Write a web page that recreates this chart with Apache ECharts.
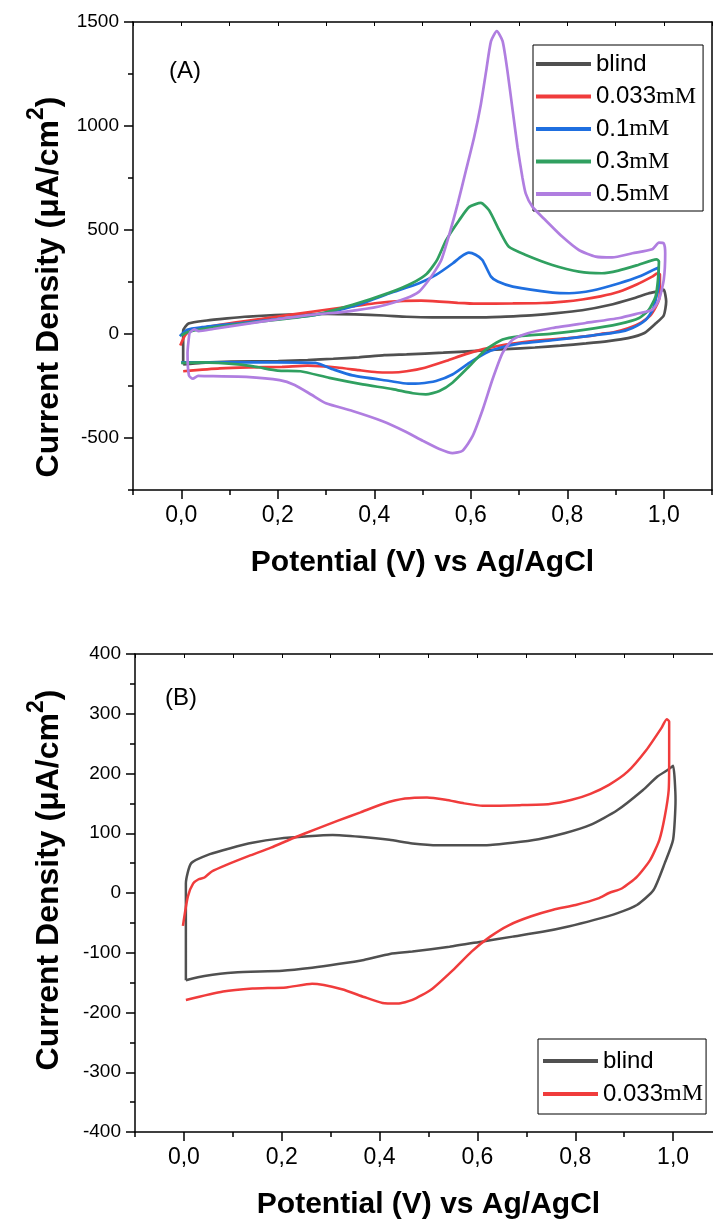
<!DOCTYPE html>
<html><head><meta charset="utf-8">
<script src="https://cdn.jsdelivr.net/npm/echarts@6/dist/echarts.min.js"></script>
<style>html,body{margin:0;padding:0;background:#fff}#c{width:713px;height:1223px}</style>
</head><body><div id="c"></div>
<script>
// ---------- data (Potential V, Current density uA/cm2) ----------
const seriesNames = ['blind', '0.033mM', '0.1mM', '0.3mM', '0.5mM'];
const seriesColors = ['#505050', '#f03c3c', '#1f6fe0', '#30a060', '#b07ee0'];

const blind = [[0.004,-146],[0.004,-60],[0.004,16],[0.015,50],[0.053,65],[0.095,75],[0.14,84],[0.194,91],[0.254,95],[0.304,97],[0.36,94],[0.42,89],[0.467,83],[0.52,80],[0.619,80],[0.672,84],[0.725,90],[0.778,100],[0.831,114],[0.885,138],[0.938,172],[0.968,195],[0.991,207],[1.0,213],[1.005,156],[1.0,89],[0.983,50],[0.96,5],[0.926,-20],[0.885,-34],[0.839,-45],[0.786,-56],[0.733,-65],[0.672,-73],[0.611,-81],[0.543,-90],[0.467,-98],[0.421,-102],[0.368,-112],[0.315,-119],[0.262,-125],[0.201,-130],[0.103,-133],[0.042,-139],[0.004,-146]];

const c033 = [[-0.002,-55],[0.008,-6],[0.019,16],[0.03,23],[0.042,26],[0.057,36],[0.087,47],[0.133,62],[0.178,76],[0.224,92],[0.27,107],[0.315,121],[0.361,135],[0.406,149],[0.452,158],[0.497,160],[0.535,156],[0.573,150],[0.611,146],[0.687,147],[0.748,149],[0.793,156],[0.831,166],[0.869,181],[0.907,203],[0.945,239],[0.976,276],[0.987,291],[0.992,287],[0.992,223],[0.991,172],[0.983,128],[0.972,89],[0.953,55],[0.926,27],[0.896,8],[0.869,0],[0.847,-9],[0.801,-20],[0.755,-28],[0.71,-39],[0.664,-54],[0.626,-73],[0.588,-98],[0.55,-129],[0.505,-162],[0.467,-179],[0.437,-185],[0.406,-184],[0.368,-174],[0.323,-161],[0.262,-152],[0.209,-158],[0.14,-160],[0.08,-165],[0.004,-179]];

const c01 = [[-0.003,-10],[0.0125,21],[0.043,33],[0.124,53],[0.2,72],[0.278,92],[0.355,132],[0.432,196],[0.493,244],[0.528,284],[0.563,340],[0.58,372],[0.596,391],[0.61,381],[0.624,356],[0.642,276],[0.656,252],[0.687,228],[0.77,199],[0.804,196],[0.852,209],[0.908,244],[0.949,276],[0.989,319],[0.99,244],[0.985,180],[0.977,116],[0.963,69],[0.935,29],[0.908,10],[0.838,-11],[0.769,-30],[0.7,-46],[0.659,-67],[0.631,-91],[0.597,-139],[0.562,-195],[0.528,-226],[0.493,-238],[0.47,-239],[0.432,-226],[0.355,-199],[0.316,-171],[0.278,-139],[0.2,-136],[0.124,-136],[0.043,-136],[0.0,-136]];

const c03 = [[0.0,-8],[0.0125,8],[0.043,24],[0.124,49],[0.2,69],[0.278,92],[0.355,140],[0.432,199],[0.478,244],[0.509,290],[0.53,355],[0.549,451],[0.576,547],[0.597,611],[0.621,630],[0.638,595],[0.659,499],[0.679,419],[0.714,380],[0.769,332],[0.824,300],[0.872,292],[0.906,305],[0.947,332],[0.985,359],[0.99,350],[0.988,260],[0.983,180],[0.969,116],[0.949,77],[0.908,49],[0.838,21],[0.769,2],[0.7,-11],[0.666,-27],[0.631,-75],[0.597,-155],[0.562,-234],[0.535,-274],[0.507,-290],[0.48,-285],[0.438,-265],[0.376,-242],[0.307,-211],[0.247,-179],[0.2,-176],[0.16,-160],[0.124,-147],[0.043,-136],[0.0,-139]];

const c05 = [[0.017,5],[0.027,22],[0.036,14],[0.066,24],[0.135,49],[0.204,72],[0.273,93],[0.342,108],[0.41,132],[0.466,172],[0.493,204],[0.51,250],[0.525,300],[0.539,356],[0.556,483],[0.573,627],[0.59,786],[0.607,946],[0.621,1105],[0.632,1265],[0.642,1408],[0.654,1456],[0.666,1408],[0.676,1265],[0.687,1073],[0.697,898],[0.707,754],[0.714,675],[0.728,611],[0.755,547],[0.79,467],[0.824,404],[0.859,372],[0.893,368],[0.935,388],[0.976,407],[0.99,439],[1.0,435],[1.003,388],[1.0,260],[0.99,164],[0.976,116],[0.949,100],[0.908,77],[0.838,53],[0.769,29],[0.72,5],[0.687,-27],[0.666,-91],[0.645,-219],[0.625,-362],[0.604,-490],[0.583,-561],[0.562,-573],[0.535,-553],[0.501,-514],[0.462,-466],[0.416,-418],[0.355,-370],[0.3,-333],[0.27,-292],[0.235,-245],[0.204,-222],[0.135,-206],[0.066,-203],[0.035,-201],[0.024,-215],[0.016,-200],[0.013,-91],[0.017,5]];

// ---------- tick values ----------
const xMajor = [0, 0.2, 0.4, 0.6, 0.8, 1.0];
const xMinor = [-0.1, 0.1, 0.3, 0.5, 0.7, 0.9, 1.1];
const xTop = [-0.1, 0, 0.1, 0.2, 0.3, 0.4, 0.5, 0.6, 0.7, 0.8, 0.9, 1.0, 1.1];
const yMajorA = [-500, 0, 500, 1000, 1500];
const yMinorA = [-750, -250, 250, 750, 1250];
const yMajorB = [-400, -300, -200, -100, 0, 100, 200, 300, 400];
const yMinorB = [-350, -250, -150, -50, 50, 150, 250, 350];

const xTitle = 'Potential (V) vs Ag/AgCl';
const SANS = 'Liberation Sans, Arial, sans-serif';
const SERIF = 'Liberation Serif, Times New Roman, serif';

function xAxes(grid, xmin, xmax) {
  return [
    { gridIndex: grid, type: 'value', min: xmin, max: xmax, position: 'bottom',
      axisLine: { show: true, onZero: false, lineStyle: { color: '#000', width: 1.5 } },
      splitLine: { show: false },
      axisTick: { show: true, customValues: xMajor, length: 9, lineStyle: { color: '#000', width: 1.5 } },
      axisLabel: { customValues: xMajor, fontFamily: SANS, fontSize: 23, color: '#000', margin: 14,
        formatter: v => v.toFixed(1).replace('.', ',') },
      name: xTitle, nameLocation: 'middle', nameGap: 58,
      nameTextStyle: { fontFamily: SANS, fontSize: 30, fontWeight: 'bold', color: '#000' } },
    { gridIndex: grid, type: 'value', min: xmin, max: xmax, position: 'bottom',
      axisLine: { show: false, onZero: false }, splitLine: { show: false },
      axisTick: { show: true, customValues: xMinor, length: 5, lineStyle: { color: '#000', width: 1.5 } },
      axisLabel: { show: false } },
    { gridIndex: grid, type: 'value', min: xmin, max: xmax, position: 'top',
      axisLine: { show: true, onZero: false, lineStyle: { color: '#000', width: 1.5 } }, splitLine: { show: false },
      axisTick: { show: true, inside: true, customValues: xTop, length: 4, lineStyle: { color: '#000', width: 1 } },
      axisLabel: { show: false } }
  ];
}
function yAxes(grid, ymin, ymax, majors, minors) {
  return [
    { gridIndex: grid, type: 'value', min: ymin, max: ymax, position: 'left',
      axisLine: { show: true, onZero: false, lineStyle: { color: '#000', width: 1.5 } },
      splitLine: { show: false },
      axisTick: { show: true, customValues: majors, length: 9, lineStyle: { color: '#000', width: 1.5 } },
      axisLabel: { customValues: majors, fontFamily: SANS, fontSize: 19, color: '#000', margin: 14,
        formatter: v => String(v) } },
    { gridIndex: grid, type: 'value', min: ymin, max: ymax, position: 'left',
      axisLine: { show: false, onZero: false }, splitLine: { show: false },
      axisTick: { show: true, customValues: minors, length: 5, lineStyle: { color: '#000', width: 1.5 } },
      axisLabel: { show: false } },
    { gridIndex: grid, type: 'value', min: ymin, max: ymax, position: 'right',
      axisLine: { show: true, onZero: false, lineStyle: { color: '#000', width: 1.5 } },
      splitLine: { show: false }, axisTick: { show: false }, axisLabel: { show: false } }
  ];
}

const legendRich = {
  s: { fontFamily: SANS, fontSize: 24, color: '#000' },
  m: { fontFamily: SERIF, fontSize: 24, color: '#000' }
};
function legendFmt(name) {
  if (name.endsWith('mM')) return '{s|' + name.slice(0, -2) + '}{m|mM}';
  return '{s|' + name + '}';
}

const dataA = [blind, c033, c01, c03, c05];
const series = [];
dataA.forEach((d, i) => series.push({
  name: seriesNames[i], type: 'line', xAxisIndex: 0, yAxisIndex: 0, data: d,
  showSymbol: false, smooth: 0.2, lineStyle: { width: 2.7, color: seriesColors[i] },
  itemStyle: { color: seriesColors[i] }, z: 2 + i
}));
[blind, c033].forEach((d, i) => series.push({
  name: seriesNames[i], type: 'line', xAxisIndex: 3, yAxisIndex: 3, data: d,
  showSymbol: false, smooth: 0.2, lineStyle: { width: 2.5, color: seriesColors[i] },
  itemStyle: { color: seriesColors[i] }, z: 2 + i
}));

function yTitle(x, y) {
  return {
    type: 'text', x: x, y: y, rotation: Math.PI / 2,
    style: {
      text: '{t|Current Density (\u03bcA/cm}{p|2}{t|)}',
      rich: {
        t: { fontFamily: SANS, fontSize: 32, fontWeight: 'bold', fill: '#000', lineHeight: 40, verticalAlign: 'bottom' },
        p: { fontFamily: SANS, fontSize: 23, fontWeight: 'bold', fill: '#000', lineHeight: 40, verticalAlign: 'top' }
      },
      align: 'center', verticalAlign: 'middle'
    }
  };
}

const option = {
  animation: false,
  backgroundColor: '#fff',
  grid: [
    { left: 133, top: 22, width: 579, height: 468, outerBoundsMode: 'none' },
    { left: 135, top: 654, width: 587, height: 478, outerBoundsMode: 'none' }
  ],
  xAxis: [...xAxes(0, -0.1, 1.1), ...xAxes(1, -0.1, 1.1)],
  yAxis: [...yAxes(0, -750, 1500, yMajorA, yMinorA), ...yAxes(1, -400, 400, yMajorB, yMinorB)],
  legend: [
    { data: seriesNames, orient: 'vertical', left: 533, top: 45, padding: [7, 7, 5, 3], itemGap: 8.5,
      itemWidth: 55, itemHeight: 4, icon: 'rect', borderColor: '#000', borderWidth: 1,
      backgroundColor: '#fff', formatter: legendFmt, textStyle: { rich: legendRich, fontSize: 24, lineHeight: 24 }, selectedMode: false },
    { data: seriesNames.slice(0, 2), orient: 'vertical', left: 538, top: 1039, padding: [10, 3, 8, 5], itemGap: 9,
      itemWidth: 55, itemHeight: 4, icon: 'rect', borderColor: '#000', borderWidth: 1,
      backgroundColor: '#fff', formatter: legendFmt, textStyle: { rich: legendRich, fontSize: 24, lineHeight: 24 }, selectedMode: false }
  ],
  graphic: [
    { type: 'text', left: 169, top: 59, style: { text: '(A)', fontFamily: SANS, fontSize: 24, fill: '#000' } },
    { type: 'text', left: 165, top: 686, style: { text: '(B)', fontFamily: SANS, fontSize: 24, fill: '#000' } },
    yTitle(45, 287),
    yTitle(45, 880)
  ],
  series: series
};
const chart = echarts.init(document.getElementById('c'));
chart.setOption(option);
</script></body></html>
